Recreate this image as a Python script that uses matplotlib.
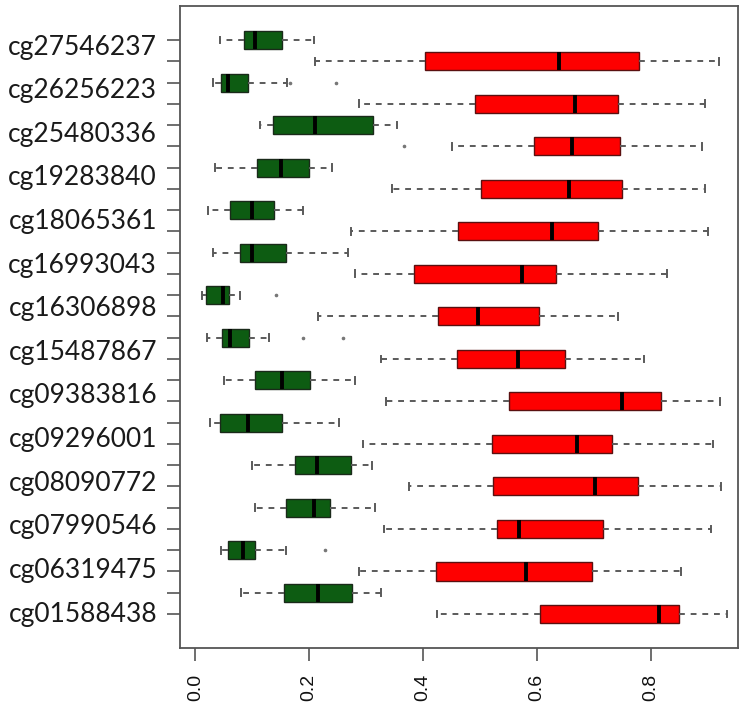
import numpy as np
import matplotlib.pyplot as plt
from matplotlib.transforms import blended_transform_factory

# CpG sites, top to bottom
probes = ['cg27546237', 'cg26256223', 'cg25480336', 'cg19283840', 'cg18065361',
          'cg16993043', 'cg16306898', 'cg15487867', 'cg09383816', 'cg09296001',
          'cg08090772', 'cg07990546', 'cg06319475', 'cg01588438']

# normal tissue (green): whisker low, Q1, median, Q3, whisker high
normal_lo  = [0.044, 0.031, 0.114, 0.034, 0.023, 0.031, 0.012, 0.021, 0.051, 0.026, 0.100, 0.105, 0.045, 0.080]
normal_q1  = [0.086, 0.045, 0.137, 0.109, 0.061, 0.078, 0.019, 0.047, 0.105, 0.044, 0.175, 0.160, 0.058, 0.156]
normal_med = [0.105, 0.058, 0.211, 0.151, 0.099, 0.100, 0.048, 0.060, 0.152, 0.092, 0.213, 0.208, 0.083, 0.215]
normal_q3  = [0.152, 0.092, 0.312, 0.199, 0.138, 0.160, 0.059, 0.094, 0.201, 0.152, 0.274, 0.236, 0.104, 0.276]
normal_hi  = [0.208, 0.161, 0.354, 0.240, 0.189, 0.268, 0.078, 0.130, 0.280, 0.252, 0.310, 0.315, 0.160, 0.326]
normal_out = [[], [0.166, 0.247], [], [], [], [], [0.141], [0.189, 0.260], [], [], [], [], [0.228], []]

# tumour tissue (red)
tumor_lo  = [0.210, 0.287, 0.450, 0.346, 0.273, 0.280, 0.216, 0.326, 0.335, 0.295, 0.376, 0.332, 0.287, 0.425]
tumor_q1  = [0.403, 0.492, 0.595, 0.501, 0.462, 0.384, 0.426, 0.460, 0.550, 0.521, 0.523, 0.530, 0.422, 0.605]
tumor_med = [0.639, 0.666, 0.661, 0.657, 0.627, 0.573, 0.497, 0.567, 0.749, 0.670, 0.702, 0.568, 0.580, 0.815]
tumor_q3  = [0.779, 0.743, 0.746, 0.749, 0.707, 0.633, 0.603, 0.650, 0.818, 0.732, 0.778, 0.716, 0.696, 0.849]
tumor_hi  = [0.919, 0.895, 0.889, 0.895, 0.901, 0.829, 0.743, 0.788, 0.922, 0.909, 0.923, 0.906, 0.853, 0.934]
tumor_out = [[], [], [0.367], [], [], [], [], [], [], [], [], [], [], []]

xticks = [0.0, 0.2, 0.4, 0.6, 0.8]


def stats(lo, q1, med, q3, hi, out):
    return [dict(whislo=a, q1=b, med=c, q3=d, whishi=e, fliers=f)
            for a, b, c, d, e, f in zip(lo, q1, med, q3, hi, out)]


n = len(probes)
pos_normal = np.arange(n) * 2
pos_tumor = pos_normal + 1

fig = plt.figure(figsize=(7.39, 7.10), dpi=100)
ax = fig.add_axes([0.2436, 0.0873, 0.7550, 0.9042])

common = dict(vert=False, widths=0.85, capwidths=0.32, patch_artist=True,
              whiskerprops=dict(color='#5a5a5a', lw=1.4, linestyle=(0, (3, 3))),
              capprops=dict(color='#5a5a5a', lw=1.4),
              medianprops=dict(color='black', lw=2.8),
              flierprops=dict(marker='o', markersize=1.6, markerfacecolor='#777777',
                              markeredgecolor='#777777', linestyle='none'))

ax.bxp(stats(normal_lo, normal_q1, normal_med, normal_q3, normal_hi, normal_out),
       positions=pos_normal,
       boxprops=dict(facecolor='#0d5c12', edgecolor='#1a2a1a', lw=1.0), **common)
ax.bxp(stats(tumor_lo, tumor_q1, tumor_med, tumor_q3, tumor_hi, tumor_out),
       positions=pos_tumor,
       boxprops=dict(facecolor='#fe0000', edgecolor='#5a1010', lw=1.0), **common)

ax.set_xlim(-0.0269, 0.953)
ax.set_ylim(28.6, -1.6)

ax.set_yticks(np.arange(2 * n))
ax.set_yticklabels([])
ax.set_xticks(xticks)
ax.set_xticklabels([f'{v:.1f}' for v in xticks], rotation=90,
                   fontsize=14, family='Liberation Sans', color='#111111')
ax.tick_params(axis='both', length=9.5, width=1.2, color='#555555')
ax.tick_params(axis='x', pad=9)

for s in ax.spines.values():
    s.set_color('#555555')
    s.set_linewidth(1.3)

# probe names sit a little off the tick pairs, as in the original figure
trans = blended_transform_factory(ax.transAxes, ax.transData)
label_pos = np.linspace(0.33, 2 * n - 1, n)
for name, y in zip(probes, label_pos):
    ax.text(-23 / 558, y, name, transform=trans, ha='right', va='center',
            fontsize=19, family='Lato', color='#1a1a1a')

fig.savefig('out.png', dpi=100)
